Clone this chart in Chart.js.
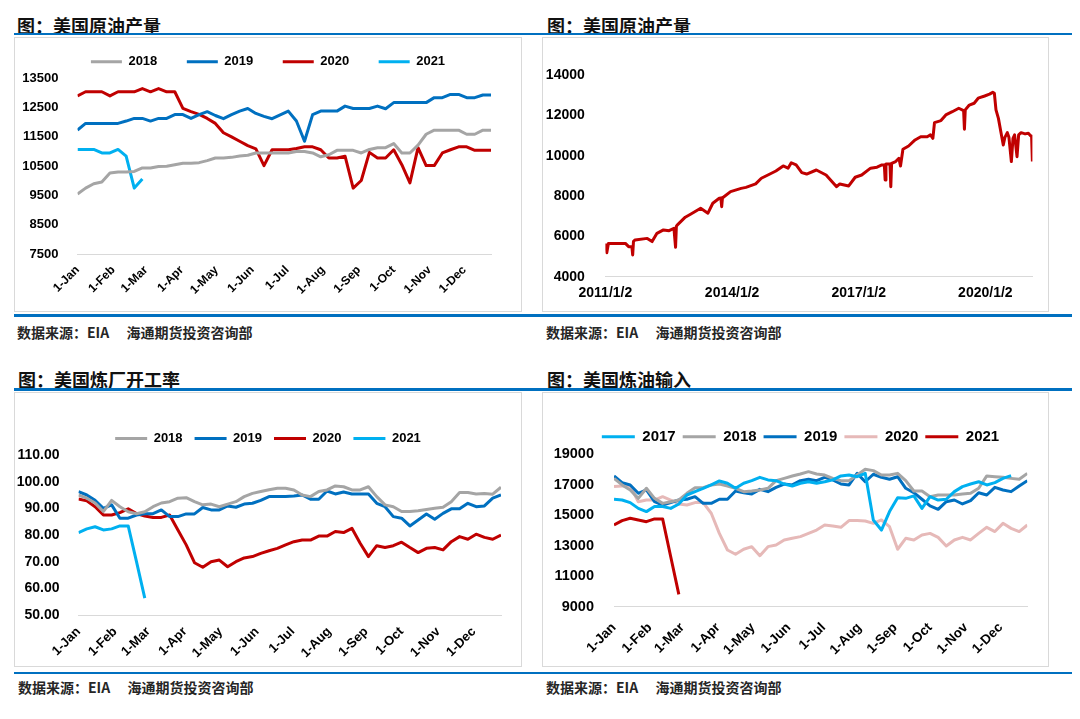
<!DOCTYPE html>
<html lang="zh">
<head>
<meta charset="utf-8">
<title>美国原油产量与炼厂</title>
<script src="https://cdn.jsdelivr.net/npm/chart.js@4.4.1/dist/chart.umd.min.js"></script>
<style>
  body { margin: 0; background: #fff; }
  #page { position: relative; width: 1080px; height: 719px; overflow: hidden; font-family: "Noto Sans CJK SC", sans-serif; }
  .title { position: absolute; font-size: 18px; line-height: 18px; font-weight: bold; color: #111; white-space: nowrap; }
  .note { position: absolute; font-size: 14px; line-height: 14px; font-weight: bold; color: #262626; white-space: pre; }
  .rule { position: absolute; left: 14px; width: 1058px; height: 2.5px; background: #0070C0; }
  .box { position: absolute; box-shadow: inset 0 0 0 1px #d9d9d9; }
  .box canvas { position: absolute; left: 0; top: 0; }
</style>
</head>
<body>
<div id="page">
  <div class="title" style="left:17px;top:15.5px">图：美国原油产量</div>
  <div class="title" style="left:547px;top:15.5px">图：美国原油产量</div>
  <div class="rule" style="top:32.7px"></div>
  <div class="box" style="left:14px;top:37px;width:508px;height:275px"><canvas id="prod" width="508" height="275"></canvas></div>
  <div class="box" style="left:542px;top:37px;width:507px;height:275px"><canvas id="hist" width="507" height="275"></canvas></div>
  <div class="rule" style="top:314.2px"></div>
  <div class="note" style="left:17px;top:324.7px">数据来源：EIA　 海通期货投资咨询部</div>
  <div class="note" style="left:546px;top:324.7px">数据来源：EIA　 海通期货投资咨询部</div>

  <div class="title" style="left:18px;top:370px">图：美国炼厂开工率</div>
  <div class="title" style="left:547px;top:370px">图：美国炼油输入</div>
  <div class="rule" style="top:388.3px"></div>
  <div class="box" style="left:14px;top:392px;width:508px;height:275px"><canvas id="util" width="508" height="275"></canvas></div>
  <div class="box" style="left:542px;top:392px;width:507px;height:275px"><canvas id="imp" width="507" height="275"></canvas></div>
  <div class="rule" style="top:671.7px"></div>
  <div class="note" style="left:18px;top:679.7px">数据来源：EIA　 海通期货投资咨询部</div>
  <div class="note" style="left:546px;top:679.7px">数据来源：EIA　 海通期货投资咨询部</div>
</div>
<script>
// weekly values, one entry per week from the first week of January
const monthLabels = ['1-Jan', '1-Feb', '1-Mar', '1-Apr', '1-May', '1-Jun', '1-Jul', '1-Aug', '1-Sep', '1-Oct', '1-Nov', '1-Dec'];

// US crude production, thousand b/d
const prod2018 = [9550, 9750, 9900, 9960, 10270, 10300, 10300, 10320, 10440, 10440,
  10490, 10500, 10550, 10600, 10600, 10620, 10690, 10780, 10780, 10800,
  10850, 10870, 10950, 10950, 10950, 10950, 10950, 11000, 11000, 10950,
  10820, 10890, 11040, 11040, 11040, 10950, 11070, 11130, 11130, 11270,
  10950, 10950, 11220, 11590, 11730, 11730, 11730, 11730, 11590, 11590, 11730, 11730];
const prod2019 = [11730, 11960, 11960, 11960, 11960, 11960, 12040, 12130, 12130, 12040,
  12130, 12130, 12260, 12260, 12130, 12260, 12360, 12230, 12120, 12260,
  12380, 12470, 12300, 12200, 12120, 12250, 12380, 12040, 11350, 12260,
  12380, 12380, 12380, 12550, 12470, 12470, 12470, 12550, 12460, 12670,
  12670, 12670, 12670, 12670, 12840, 12840, 12950, 12950, 12840, 12840, 12930, 12930];
const prod2020 = [12900, 13040, 13040, 13040, 12900, 13040, 13040, 13040, 13150, 13040,
  13150, 13040, 13040, 12470, 12360, 12270, 12130, 11960, 11640, 11500,
  11350, 11200, 11090, 10520, 11060, 11060, 11060, 11100, 11160, 11160,
  11060, 10780, 10780, 10840, 9750, 10010, 10970, 10780, 10780, 11060,
  10550, 9930, 11130, 10520, 10520, 10950, 11060, 11160, 11160, 11040, 11040, 11040];
const prod2021 = [11070, 11070, 11070, 10950, 10950, 11070, 10840, 9750, 10060];

// long history of US crude production
const histDates = ['2011-01-07', '2011-01-14', '2011-01-28', '2011-06-24', '2011-07-22', '2011-08-19', '2011-08-26', '2011-09-02', '2011-09-16', '2011-12-30',
  '2012-02-10', '2012-03-23', '2012-05-18', '2012-07-06', '2012-08-17', '2012-08-31', '2012-09-07', '2012-09-14', '2012-11-23',
  '2013-01-11', '2013-04-05', '2013-06-07', '2013-07-19', '2013-09-13', '2013-09-27', '2013-10-04', '2013-10-11', '2013-10-18', '2013-12-20',
  '2014-03-21', '2014-05-02', '2014-07-25', '2014-09-12', '2014-11-21',
  '2015-01-16', '2015-03-20', '2015-05-01', '2015-05-29', '2015-07-10', '2015-08-28', '2015-10-09',
  '2016-01-01', '2016-03-25', '2016-06-24', '2016-07-22', '2016-10-07', '2016-12-02',
  '2017-01-27', '2017-04-14', '2017-06-09', '2017-07-21', '2017-08-11', '2017-08-18', '2017-08-25', '2017-09-29', '2017-10-06', '2017-10-13', '2017-11-17', '2017-12-15', '2017-12-29',
  '2018-01-19', '2018-03-09', '2018-05-04', '2018-06-22', '2018-08-17', '2018-09-14', '2018-10-05', '2018-10-19', '2018-12-14',
  '2019-01-25', '2019-03-22', '2019-05-17', '2019-06-28', '2019-07-05', '2019-07-12', '2019-08-16', '2019-09-27', '2019-11-01', '2019-12-27',
  '2020-02-07', '2020-03-06', '2020-03-20', '2020-04-03', '2020-04-24', '2020-05-15', '2020-06-05', '2020-06-19', '2020-07-10', '2020-07-24',
  '2020-08-14', '2020-08-28', '2020-09-11', '2020-10-02', '2020-10-16', '2020-11-06', '2020-12-11',
  '2021-01-08', '2021-01-29', '2021-02-05', '2021-02-12'];
const histValues = [5650, 5190, 5650, 5650, 5490, 5500, 5080, 5750, 5820, 5900,
  5740, 6150, 6320, 6280, 6400, 5460, 6500, 6560, 6950,
  7110, 7390, 7150, 7640, 7890, 7900, 7470, 7930, 7940, 8220,
  8380, 8430, 8600, 8880, 9080,
  9240, 9490, 9380, 9650, 9540, 9160, 9090,
  9290, 9040, 8460, 8600, 8500, 8930,
  9040, 9380, 9430, 9540, 9540, 8800, 9590, 9590, 8460, 9620, 9710, 9870, 9490,
  10320, 10480, 10780, 10940, 10940, 11030, 10860, 11640, 11740,
  12020, 12180, 12350, 12230, 11310, 12270, 12510, 12600, 12850, 12960,
  13050, 13140, 13090, 12270, 11850, 11190, 10530, 10910, 11140, 10910,
  9710, 10860, 11030, 9950, 11030, 11140, 11080,
  11110, 10980, 10980, 9710];
const histTickDates = ['2011-01-02', '2014-01-02', '2017-01-02', '2020-01-02'];
const histTickLabels = ['2011/1/2', '2014/1/2', '2017/1/2', '2020/1/2'];

// refinery utilisation, %
const util2018 = [95, 93.8, 92, 88.8, 93, 90.6, 88.7, 88, 88.7, 90.6,
  92, 92.5, 93.8, 94, 92.5, 91.3, 91.6, 90.6, 91.6, 92.5,
  94.4, 95.6, 96.3, 97, 97.5, 97.5, 96.9, 95, 94.4, 96.3,
  96.9, 98.4, 98.1, 96.9, 96.9, 98.1, 94.4, 91.3, 90.6, 88.8,
  88.8, 89.1, 89.6, 90, 90.4, 92.5, 95.9, 95.9, 95.4, 95.6, 95.3, 97.9];
const util2019 = [96.3, 95, 93, 90, 91.3, 86.3, 86.3, 87.5, 88, 88,
  89.4, 86.9, 86.9, 87.9, 87.9, 90.3, 89.4, 89.4, 90.9, 90.4,
  91.6, 91.9, 93, 94.4, 94.4, 94.4, 94.6, 95, 93.4, 93.4,
  96.5, 95.4, 96.1, 95.4, 95.4, 95.4, 91.9, 90.6, 86.9, 86.3,
  83.4, 85.6, 87.9, 85.9, 88.1, 89.8, 89.8, 91.9, 90.6, 90.9, 93.8, 95];
const util2020 = [93.5, 92.8, 90.6, 87.5, 87.5, 88.4, 89.8, 88, 87.1, 86.6,
  86.6, 87.5, 81.9, 76.3, 69.6, 67.9, 70, 70.6, 68.1, 70,
  71.4, 71.9, 73.1, 74.1, 75, 76.3, 77.5, 78.1, 78.1, 79.6,
  79.6, 81.3, 80.9, 82.5, 76.9, 71.9, 76, 75.3, 76, 77.3,
  75.3, 73.4, 75, 75.3, 74.4, 77.5, 79.4, 78.4, 80.3, 79.1, 78.4, 80];
const util2021 = [80.9, 82.3, 83.1, 81.9, 82.3, 83.4, 83.4, 70, 56.3];

// refinery crude input, thousand b/d
const imp2017 = [16050, 16000, 15830, 15450, 15240, 15570, 15570, 15450, 15740, 16330,
  16550, 16770, 16990, 17250, 17100, 16770, 17100, 17270, 17490, 17320,
  17270, 17050, 16920, 17100, 17200, 17100, 17200, 17320, 17580, 17640,
  17530, 17750, 14690, 14030, 15240, 16150, 16110, 16270, 15450, 16220,
  16000, 16050, 16550, 16880, 17050, 17200, 16990, 17140, 17420, 17600];
const imp2018 = [17420, 16990, 16660, 16110, 16770, 16110, 15780, 15890, 16000, 16440,
  16810, 16810, 16990, 17050, 16920, 16770, 16550, 16590, 16660, 16770,
  17270, 17420, 17580, 17710, 17860, 17710, 17640, 17420, 17270, 17270,
  17640, 18020, 17930, 17640, 17640, 17750, 17270, 16590, 16590, 16220,
  16330, 16330, 16330, 16400, 16440, 16770, 17580, 17530, 17490, 17420, 17360, 17750];
const imp2019 = [17580, 17140, 16990, 16440, 16660, 15890, 15670, 15830, 16000, 16050,
  16220, 15780, 15780, 16050, 16050, 16590, 16480, 16400, 16700, 16550,
  16830, 17050, 16990, 17270, 17360, 17270, 17490, 17320, 17050, 16990,
  17750, 17200, 17690, 17490, 17360, 17530, 16770, 16480, 16050, 15610,
  15390, 15890, 16000, 15740, 15960, 16480, 16330, 16830, 16660, 16550, 16920, 17270];
const imp2020 = [16880, 16920, 16920, 15890, 16000, 16000, 16220, 16000, 15740, 15670,
  15830, 15830, 15130, 13810, 12720, 12440, 12770, 12940, 12350, 12940,
  13050, 13380, 13490, 13600, 13810, 14030, 14360, 14300, 14210, 14650,
  14650, 14620, 14470, 14690, 14250, 12770, 13490, 13380, 13710, 13810,
  13550, 12980, 13380, 13550, 13380, 13810, 14210, 13930, 14470, 14140, 13930, 14360];
const imp2021 = [14360, 14650, 14800, 14690, 14580, 14760, 14760, 12280, 9810];

const GRAY = '#A5A5A5', BLUE = '#0070C0', RED = '#C00000', CYAN = '#00B0F0', PINK = '#E6B9B8';

Chart.defaults.font.family = '"Liberation Sans", Arial, sans-serif';
Chart.defaults.font.weight = 'bold';
Chart.defaults.color = '#000';

// day offset of the first of each month, used as x tick positions
const monthStarts = monthLabels.map((_, m) => (Date.UTC(2019, m, 1) - Date.UTC(2019, 0, 1)) / 864e5);

function legendOpts(l) {
  return {
    position: 'top',
    labels: {
      font: { size: l.font, weight: 'bold' },
      boxWidth: l.box,
      boxHeight: 3,
      padding: l.gap,
      generateLabels(chart) {
        return Chart.defaults.plugins.legend.labels.generateLabels(chart)
          .map(item => Object.assign(item, { lineWidth: 0 }));
      },
    },
  };
}

// area = distance of the plot edges from the canvas edges
function valueAxis(y, area) {
  return {
    min: y.min,
    max: y.max,
    grid: { display: false, drawTicks: false },
    border: { display: false },
    ticks: { stepSize: y.step, padding: y.pad, font: { size: y.font }, callback: y.fmt },
    afterFit(s) { s.width = area.left; s.paddingTop = area.top; },
  };
}

function monthAxis(font, pad, area) {
  return {
    type: 'linear',
    min: 0,
    max: 51 * 7,
    grid: { display: false, drawTicks: false },
    border: { display: true, color: '#d9d9d9', width: 1 },
    ticks: {
      autoSkip: false, minRotation: 45, maxRotation: 45, padding: pad, font: { size: font },
      callback: (v, i) => monthLabels[i],
    },
    afterBuildTicks(s) { s.ticks = monthStarts.map(value => ({ value })); },
    afterFit(s) { s.height = area.bottom; s.paddingRight = area.right; },
  };
}

function lineStyle(color) {
  return {
    borderColor: color,
    backgroundColor: color,
    borderWidth: 3,
    borderJoinStyle: 'round',
    pointRadius: 0,
    tension: 0,
  };
}

function seasonal(id, c) {
  return new Chart(document.getElementById(id), {
    type: 'line',
    data: {
      datasets: c.series.map(([label, values, color]) => Object.assign({
        label,
        data: values.map((v, i) => ({ x: i * 7, y: v })),
      }, lineStyle(color))),
    },
    options: {
      responsive: false,
      animation: false,
      layout: { padding: { top: c.legend.top, left: c.padLeft || 0 } },
      plugins: { legend: legendOpts(c.legend), tooltip: { enabled: false } },
      scales: { x: monthAxis(c.xFont, c.xPad, c.area), y: valueAxis(c.y, c.area) },
    },
  });
}

seasonal('prod', {
  series: [['2018', prod2018, GRAY], ['2019', prod2019, BLUE], ['2020', prod2020, RED], ['2021', prod2021, CYAN]],
  legend: { font: 13, box: 31, gap: 29.5, top: -13.7 },
  y: { min: 7500, max: 13500, step: 1000, font: 13, pad: 19, fmt: v => String(v) },
  xFont: 12, xPad: 9,
  area: { left: 63.5, top: 41.3, right: 31, bottom: 58 },
});

seasonal('util', {
  series: [['2018', util2018, GRAY], ['2019', util2019, BLUE], ['2020', util2020, RED], ['2021', util2021, CYAN]],
  legend: { font: 13, box: 32, gap: 12, top: 10.5 },
  y: { min: 50, max: 110, step: 10, font: 14, pad: 19, fmt: v => v.toFixed(2) },
  xFont: 13, xPad: 9,
  area: { left: 64.5, top: 63, right: 21, bottom: 52 },
});

seasonal('imp', {
  series: [['2017', imp2017, CYAN], ['2018', imp2018, GRAY], ['2019', imp2019, BLUE], ['2020', imp2020, PINK], ['2021', imp2021, RED]],
  legend: { font: 15, box: 33, gap: 7, top: 10.8 },
  padLeft: 10,
  y: { min: 9000, max: 19000, step: 2000, font: 14.5, pad: 20, fmt: v => String(v) },
  xFont: 13.5, xPad: 13,
  area: { left: 62, top: 62.3, right: 21.7, bottom: 60.3 },
});

const histArea = { left: 63.4, top: 38, right: 16.6, bottom: 35.3 };
new Chart(document.getElementById('hist'), {
  type: 'line',
  data: {
    datasets: [Object.assign({
      label: '美国原油产量',
      data: histDates.map((d, i) => ({ x: Date.parse(d), y: histValues[i] })),
    }, lineStyle(RED))],
  },
  options: {
    responsive: false,
    animation: false,
    plugins: { legend: { display: false }, tooltip: { enabled: false } },
    scales: {
      x: {
        type: 'linear',
        min: Date.parse(histTickDates[0]),
        max: Date.parse(histDates[histDates.length - 1]),
        grid: { display: false, drawTicks: false },
        border: { display: true, color: '#d9d9d9', width: 1 },
        ticks: { autoSkip: false, maxRotation: 0, padding: 8, font: { size: 14 }, callback: (v, i) => histTickLabels[i] },
        afterBuildTicks(s) { s.ticks = histTickDates.map(d => ({ value: Date.parse(d) })); },
        afterFit(s) { s.height = histArea.bottom; s.paddingRight = histArea.right; },
      },
      y: valueAxis({ min: 4000, max: 14000, step: 2000, font: 14, pad: 20.6, fmt: v => String(v) }, histArea),
    },
  },
});
</script>
</body>
</html>
